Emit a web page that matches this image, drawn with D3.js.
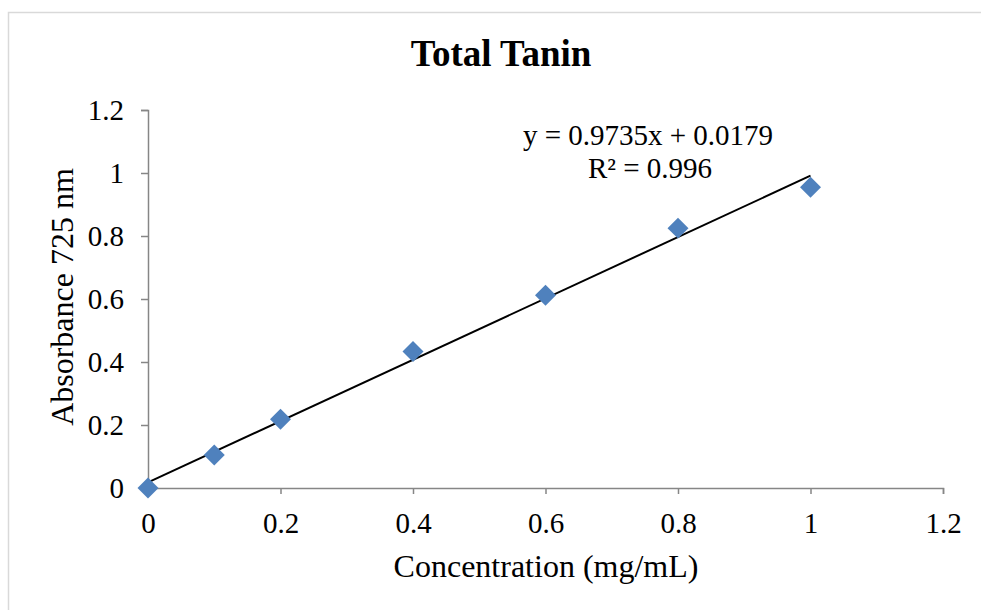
<!DOCTYPE html>
<html>
<head>
<meta charset="utf-8">
<script src="https://cdn.jsdelivr.net/npm/d3@7"></script>
<style>
  body { margin: 0; background: #fff; }
  text { font-family: "Liberation Serif", "Times New Roman", serif; fill: #000; }
</style>
</head>
<body>
<svg id="chart" width="981" height="610"></svg>
<script>
// Data
const concentration = [0, 0.1, 0.2, 0.4, 0.6, 0.8, 1.0];
const absorbance = [0, 0.105, 0.218, 0.433, 0.612, 0.825, 0.955];
const xTicks = [0, 0.2, 0.4, 0.6, 0.8, 1, 1.2];
const yTicks = [0, 0.2, 0.4, 0.6, 0.8, 1, 1.2];
const slope = 0.9735;
const intercept = 0.0179;
const rSquared = 0.996;

const svg = d3.select("#chart");

// Outer chart border
svg.append("rect")
    .attr("x", 8.5).attr("y", 12.5)
    .attr("width", 990).attr("height", 620)
    .attr("fill", "none")
    .attr("stroke", "#d9d9d9")
    .attr("stroke-width", 1.5);

const plotLeft = 148, plotRight = 943, plotTop = 110, plotBottom = 488;

const x = d3.scaleLinear().domain([0, 1.2]).range([plotLeft, plotRight]);
const y = d3.scaleLinear().domain([0, 1.2]).range([plotBottom, plotTop]);

const fmt = d => String(+d.toFixed(1));

// Axes
const xAxis = svg.append("g")
    .attr("transform", `translate(0,${plotBottom})`)
    .call(d3.axisBottom(x).tickValues(xTicks).tickSize(6).tickSizeOuter(6).tickFormat(fmt));

const yAxis = svg.append("g")
    .attr("transform", `translate(${plotLeft},0)`)
    .call(d3.axisLeft(y).tickValues(yTicks).tickSize(7).tickSizeOuter(7).tickFormat(fmt));

[xAxis, yAxis].forEach(g => {
    g.selectAll("path, line").attr("stroke", "#868686").attr("stroke-width", 1.5);
    g.selectAll("text")
        .style("font-family", '"Liberation Serif", "Times New Roman", serif')
        .style("font-size", "29px")
        .attr("fill", "#000");
});
xAxis.selectAll("text").attr("y", 45).attr("dy", 0);
yAxis.selectAll("text").attr("x", -24).attr("dy", "0.34em");

// Linear trendline
svg.append("line")
    .attr("x1", x(0)).attr("y1", y(intercept))
    .attr("x2", x(1)).attr("y2", y(slope + intercept))
    .attr("stroke", "#000")
    .attr("stroke-width", 2);

// Markers (diamonds)
const diamond = d3.symbol().type(d3.symbolSquare).size(220);
svg.append("g").selectAll("path")
    .data(concentration)
    .join("path")
    .attr("d", diamond)
    .attr("transform", (d, i) => `translate(${x(d)},${y(absorbance[i])}) rotate(45)`)
    .attr("fill", "#4f81bd");

// Title
svg.append("text")
    .attr("x", 501).attr("y", 66)
    .attr("text-anchor", "middle")
    .style("font-size", "37px")
    .style("font-weight", "bold")
    .text("Total Tanin");

// Equation
svg.append("text")
    .attr("x", 648).attr("y", 145)
    .attr("text-anchor", "middle")
    .style("font-size", "29px")
    .text(`y = ${slope}x + ${intercept}`);
svg.append("text")
    .attr("x", 650).attr("y", 178)
    .attr("text-anchor", "middle")
    .style("font-size", "29px")
    .text(`R² = ${rSquared}`);

// Axis titles
svg.append("text")
    .attr("x", 546).attr("y", 577)
    .attr("text-anchor", "middle")
    .style("font-size", "32px")
    .text("Concentration (mg/mL)");

svg.append("text")
    .attr("transform", `translate(73,297) rotate(-90)`)
    .attr("text-anchor", "middle")
    .style("font-size", "32px")
    .text("Absorbance 725 nm");
</script>
</body>
</html>
